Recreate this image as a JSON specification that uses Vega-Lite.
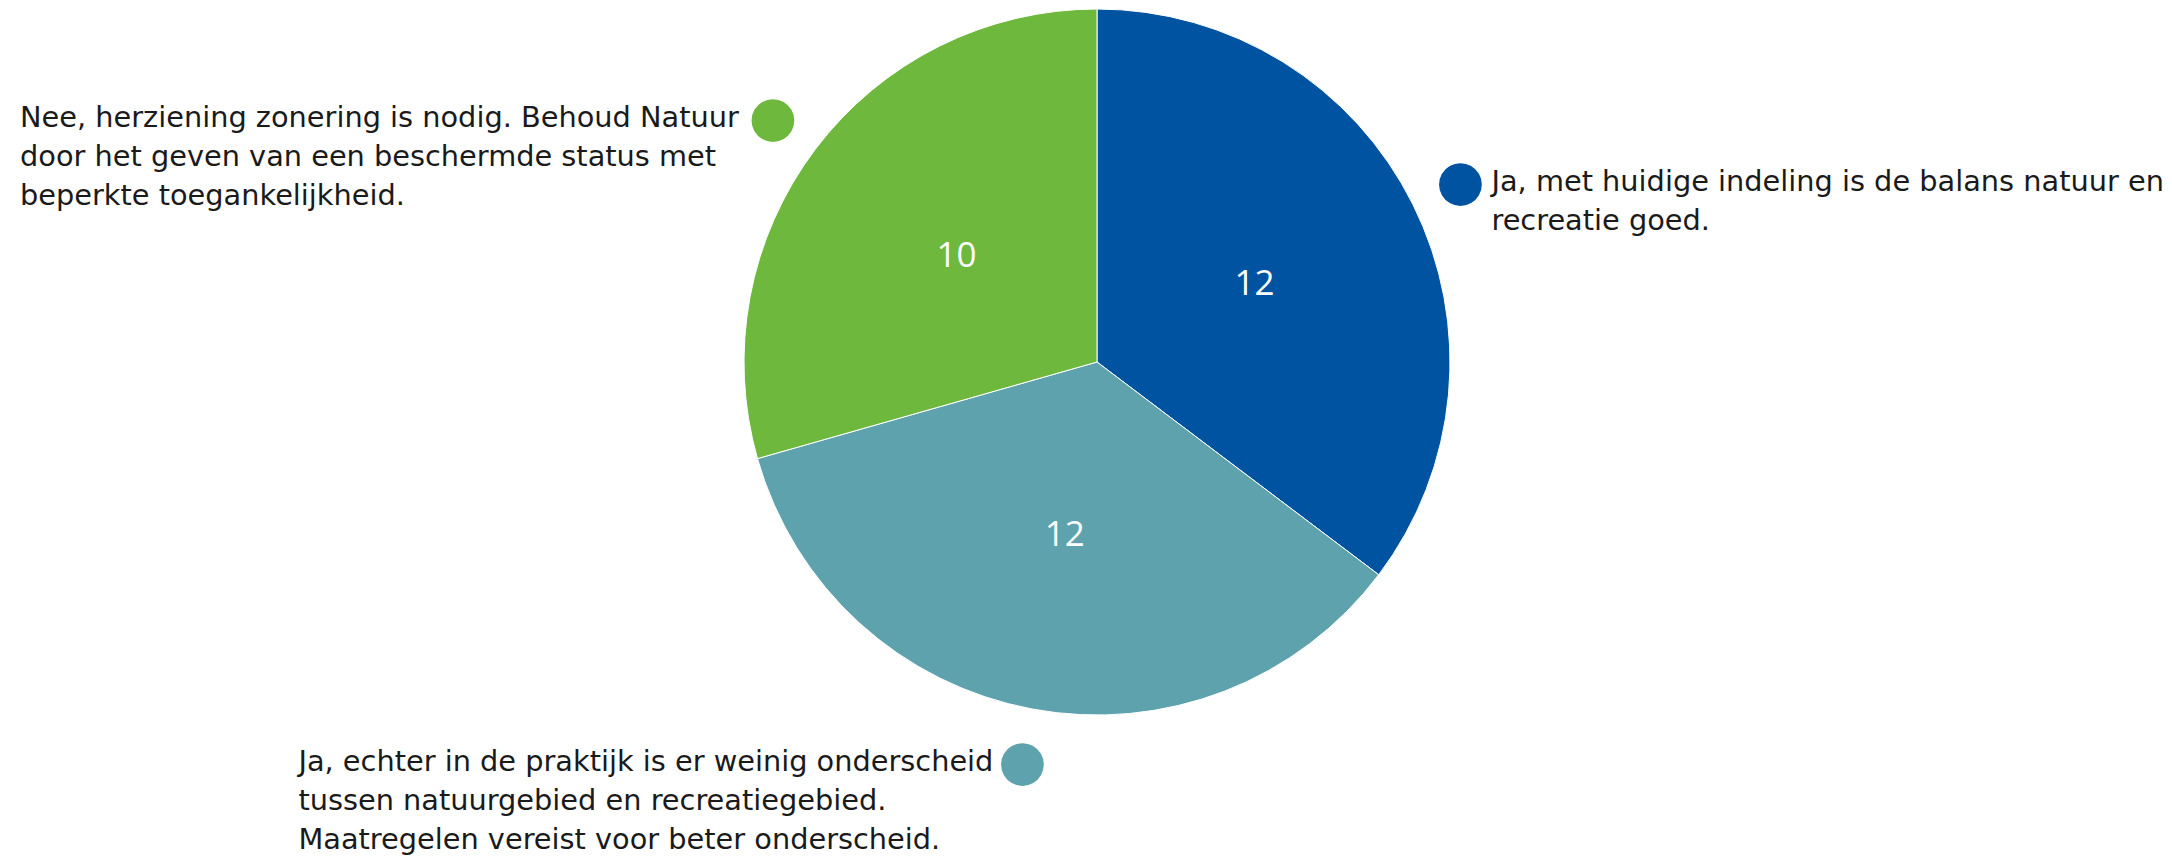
{
  "$schema": "https://vega.github.io/schema/vega-lite/v6.json",
  "width": 2150,
  "height": 724,
  "autosize": {"type": "none"},
  "padding": {"left": 22, "top": 0, "right": 0, "bottom": 132},
  "background": "white",
  "config": {"view": {"stroke": null}},
  "data": {
    "values": [
      {"idx": 1, "count": 12, "label": "Ja, met huidige indeling is de balans natuur en\nrecreatie goed."},
      {"idx": 2, "count": 12, "label": "Ja, echter in de praktijk is er weinig onderscheid\ntussen natuurgebied en recreatiegebied.\nMaatregelen vereist voor beter onderscheid."},
      {"idx": 3, "count": 10, "label": "Nee, herziening zonering is nodig. Behoud Natuur\ndoor het geven van een beschermde status met\nbeperkte toegankelijkheid."}
    ]
  },
  "encoding": {
    "theta": {"field": "count", "type": "quantitative", "stack": true},
    "order": {"field": "idx", "type": "quantitative", "sort": "ascending"},
    "color": {
      "field": "idx",
      "type": "nominal",
      "scale": {"domain": [1, 2, 3], "range": ["#0053A0", "#5EA2AE", "#6DB83D"]},
      "legend": null
    }
  },
  "layer": [
    {"mark": {"type": "arc", "radius": 353, "stroke": "white", "strokeWidth": 1}},
    {
      "mark": {"type": "text", "radius": 176, "fontSize": 35, "font": "Open Sans", "fontWeight": 500, "baseline": "middle", "align": "center"},
      "encoding": {"text": {"field": "count", "type": "quantitative"}, "color": {"value": "white"}, "detail": {"field": "idx"}}
    },
    {
      "mark": {"type": "text", "radius": 406, "fontSize": 56, "font": "DejaVu Sans", "baseline": "middle", "align": "center", "dy": 1},
      "encoding": {"text": {"value": "●"}}
    },
    {
      "mark": {"type": "text", "radius": 406, "align": "left", "baseline": "alphabetic", "dx": 31, "dy": 10, "font": "DejaVu Sans", "fontSize": 28.8, "lineBreak": "\n", "lineHeight": 39},
      "encoding": {"text": {"condition": {"test": "datum.idx === 1", "field": "label"}, "value": ""}, "color": {"value": "#1a1a1a"}, "detail": {"field": "idx"}}
    },
    {
      "mark": {"type": "text", "radius": 406, "align": "left", "baseline": "alphabetic", "dx": -724, "dy": 10, "font": "DejaVu Sans", "fontSize": 28.8, "lineBreak": "\n", "lineHeight": 39},
      "encoding": {"text": {"condition": {"test": "datum.idx === 2", "field": "label"}, "value": ""}, "color": {"value": "#1a1a1a"}, "detail": {"field": "idx"}}
    },
    {
      "mark": {"type": "text", "radius": 406, "align": "left", "baseline": "alphabetic", "dx": -753, "dy": 10, "font": "DejaVu Sans", "fontSize": 28.8, "lineBreak": "\n", "lineHeight": 39},
      "encoding": {"text": {"condition": {"test": "datum.idx === 3", "field": "label"}, "value": ""}, "color": {"value": "#1a1a1a"}, "detail": {"field": "idx"}}
    }
  ]
}
